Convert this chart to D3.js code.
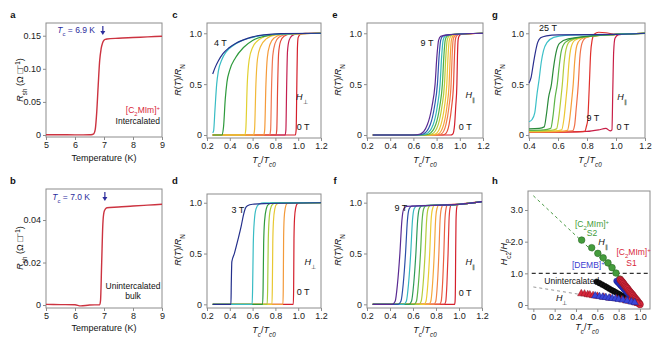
<!DOCTYPE html>
<html>
<head>
<meta charset="utf-8">
<script src="https://cdn.jsdelivr.net/npm/d3@7"></script>
<style>
body { margin: 0; background: #fff; }
svg { font-family: "Liberation Sans", Arial, sans-serif; }
.axis text { font-size: 9px; fill: #222; }
.axis line { stroke: #8c8c8c; }
</style>
</head>
<body>
<div id="chart"></div>
<script>
// a, b: sheet resistance vs temperature
const tempA = [5, 5.5, 6, 6.5, 6.6, 6.65, 6.7, 6.75, 6.8, 6.85, 6.9, 6.95, 7.0, 7.05, 7.1, 7.5, 8, 8.5, 9];
const rshA = [0.0005, 0.0004, 0.0002, 0.0003, 0.0008, 0.002, 0.009, 0.035, 0.075, 0.112, 0.13, 0.139, 0.1432, 0.1445, 0.145, 0.1462, 0.1472, 0.1482, 0.1492];
const tempB = [5, 5.5, 6, 6.2, 6.5, 6.85, 6.88, 6.92, 6.96, 7.0, 7.05, 7.1, 7.5, 8, 8.5, 9];
const rshB = [0.0003, 0.0002, 0.0001, -0.0004, 0.0, 0.0001, 0.002, 0.02, 0.038, 0.0437, 0.0452, 0.0458, 0.0461, 0.0466, 0.047, 0.0474];

// c: intercalated, perpendicular field, 0 T .. 4 T
const fieldsC = [0, 0.25, 0.5, 1, 1.5, 2, 2.5, 3, 3.5, 4];
const curvesC = [
  [[0.25,0],[0.975,0],[0.982,0.05],[0.988,0.5],[0.993,0.85],[1.0,0.96],[1.02,0.99],[1.06,1.0],[1.2,1.0]],
  [[0.25,0],[0.885,0],[0.892,0.05],[0.899,0.5],[0.906,0.82],[0.92,0.93],[0.945,0.975],[0.99,0.995],[1.2,1.0]],
  [[0.25,0],[0.805,0],[0.812,0.05],[0.82,0.5],[0.828,0.8],[0.845,0.92],[0.875,0.97],[0.93,0.993],[1.2,1.0]],
  [[0.25,0],[0.75,0],[0.758,0.05],[0.767,0.5],[0.777,0.78],[0.797,0.9],[0.83,0.96],[0.9,0.99],[1.2,1.0]],
  [[0.25,0],[0.698,0],[0.706,0.05],[0.717,0.5],[0.729,0.76],[0.752,0.89],[0.79,0.955],[0.86,0.988],[1.2,1.0]],
  [[0.25,0],[0.608,0],[0.617,0.05],[0.629,0.5],[0.643,0.75],[0.67,0.87],[0.72,0.945],[0.8,0.985],[1.2,1.0]],
  [[0.25,0],[0.53,0],[0.54,0.05],[0.553,0.5],[0.57,0.74],[0.6,0.86],[0.66,0.94],[0.76,0.982],[1.2,1.0]],
  [[0.25,0],[0.33,0],[0.345,0.08],[0.36,0.35],[0.375,0.52],[0.4,0.64],[0.45,0.76],[0.52,0.86],[0.6,0.93],[0.7,0.97],[0.85,0.995],[1.2,1.0]],
  [[0.25,0.02],[0.258,0.04],[0.27,0.25],[0.285,0.5],[0.3,0.63],[0.33,0.74],[0.37,0.82],[0.43,0.88],[0.5,0.925],[0.6,0.96],[0.72,0.985],[1.2,1.0]],
  [[0.25,0.6],[0.27,0.66],[0.3,0.73],[0.34,0.8],[0.39,0.855],[0.45,0.9],[0.52,0.935],[0.6,0.965],[0.7,0.985],[0.85,0.997],[1.2,1.0]]
];

// d: unintercalated, perpendicular field, 0 T .. 3 T
const fieldsD = [0, 0.5, 1, 1.5, 2, 2.5, 3];
const curvesD = [
  [[0.25,0],[0.957,0],[0.96,0.15],[0.963,0.65],[0.968,0.85],[0.978,0.95],[0.992,0.99],[1.02,1.0],[1.2,1.0]],
  [[0.25,0],[0.866,0],[0.869,0.15],[0.872,0.65],[0.877,0.85],[0.887,0.95],[0.9,0.99],[0.93,1.0],[1.2,1.0]],
  [[0.25,0],[0.77,0],[0.773,0.15],[0.777,0.6],[0.783,0.82],[0.795,0.94],[0.81,0.985],[0.84,0.998],[1.2,1.0]],
  [[0.25,0],[0.728,0],[0.732,0.15],[0.737,0.6],[0.744,0.82],[0.757,0.94],[0.775,0.985],[0.81,0.998],[1.2,1.0]],
  [[0.25,0],[0.688,0],[0.692,0.15],[0.697,0.6],[0.705,0.82],[0.72,0.94],[0.74,0.985],[0.78,0.998],[1.2,1.0]],
  [[0.25,0],[0.596,0],[0.6,0.15],[0.606,0.6],[0.615,0.82],[0.63,0.94],[0.655,0.985],[0.7,0.998],[1.2,1.0]],
  [[0.25,0],[0.41,0],[0.413,0.2],[0.418,0.42],[0.44,0.5],[0.47,0.63],[0.5,0.77],[0.52,0.88],[0.535,0.94],[0.555,0.97],[0.6,0.985],[0.7,0.992],[1.2,1.0]]
];

// e: intercalated, parallel field, 0 T .. 9 T
const fieldsE = [0, 1, 2, 3, 4, 5, 6, 7, 8, 9];
const curvesE = [
  [[0.25,0],[0.92,0],[0.94,0.01],[0.955,0.1],[0.965,0.28],[0.975,0.5],[0.98,0.78],[0.985,0.93],[0.993,0.97],[1.01,0.99],[1.2,1.0]],
  [[0.25,0],[0.85,0],[0.875,0.01],[0.907,0.1],[0.93,0.28],[0.946,0.5],[0.954,0.78],[0.961,0.93],[0.97,0.97],[0.99,0.99],[1.2,1.0]],
  [[0.25,0],[0.81,0],[0.84,0.01],[0.88,0.1],[0.907,0.28],[0.925,0.5],[0.934,0.78],[0.942,0.93],[0.953,0.97],[0.975,0.99],[1.2,1.0]],
  [[0.25,0],[0.78,0],[0.815,0.01],[0.86,0.1],[0.889,0.28],[0.908,0.5],[0.918,0.78],[0.927,0.93],[0.939,0.97],[0.965,0.99],[1.2,1.0]],
  [[0.25,0],[0.75,0],[0.79,0.01],[0.837,0.1],[0.868,0.28],[0.888,0.5],[0.899,0.78],[0.909,0.93],[0.922,0.97],[0.955,0.989],[1.2,1.0]],
  [[0.25,0],[0.72,0],[0.76,0.01],[0.813,0.1],[0.846,0.28],[0.868,0.5],[0.88,0.78],[0.891,0.93],[0.905,0.97],[0.94,0.988],[1.2,1.0]],
  [[0.25,0],[0.69,0],[0.735,0.01],[0.792,0.1],[0.827,0.28],[0.85,0.5],[0.863,0.78],[0.874,0.93],[0.889,0.97],[0.93,0.988],[1.2,1.0]],
  [[0.25,0],[0.66,0],[0.71,0.01],[0.77,0.1],[0.806,0.28],[0.83,0.5],[0.844,0.78],[0.856,0.93],[0.872,0.97],[0.92,0.987],[1.2,1.0]],
  [[0.25,0],[0.63,0],[0.685,0.01],[0.745,0.1],[0.782,0.28],[0.807,0.5],[0.822,0.78],[0.835,0.93],[0.852,0.97],[0.91,0.986],[1.2,1.0]],
  [[0.25,0],[0.6,0],[0.66,0.01],[0.72,0.1],[0.76,0.28],[0.787,0.5],[0.803,0.78],[0.817,0.93],[0.835,0.97],[0.9,0.985],[1.2,1.0]]
];

// f: unintercalated, parallel field, 0 T .. 9 T
const fieldsF = [0, 0.5, 1, 2, 3, 4, 5, 6, 7, 8, 8.5, 9];
const curvesF = [
  [[0.25,0],[0.962,0],[0.966,0.03],[0.969,0.2],[0.971,0.5],[0.974,0.82],[0.979,0.94],[0.988,0.982],[1.0,0.984],[1.2,1.01]],
  [[0.25,0],[0.872,0],[0.885,0.03],[0.895,0.2],[0.905,0.5],[0.913,0.82],[0.921,0.94],[0.933,0.981],[1.0,0.984],[1.2,1.01]],
  [[0.25,0],[0.83,0],[0.845,0.03],[0.857,0.2],[0.868,0.5],[0.877,0.82],[0.887,0.94],[0.9,0.98],[1.0,0.984],[1.2,1.01]],
  [[0.25,0],[0.782,0],[0.798,0.03],[0.812,0.2],[0.825,0.5],[0.835,0.82],[0.846,0.94],[0.862,0.979],[1.0,0.984],[1.2,1.01]],
  [[0.25,0],[0.738,0],[0.755,0.03],[0.77,0.2],[0.785,0.5],[0.796,0.82],[0.808,0.94],[0.825,0.977],[1.0,0.984],[1.2,1.01]],
  [[0.25,0],[0.695,0],[0.713,0.03],[0.729,0.2],[0.745,0.5],[0.757,0.82],[0.77,0.94],[0.788,0.975],[1.0,0.984],[1.2,1.01]],
  [[0.25,0],[0.652,0],[0.671,0.03],[0.688,0.2],[0.705,0.5],[0.718,0.82],[0.731,0.94],[0.75,0.973],[1.0,0.984],[1.2,1.01]],
  [[0.25,0],[0.61,0],[0.63,0.03],[0.647,0.2],[0.665,0.5],[0.679,0.82],[0.693,0.94],[0.713,0.971],[1.0,0.984],[1.2,1.01]],
  [[0.25,0],[0.565,0],[0.587,0.03],[0.606,0.2],[0.625,0.5],[0.64,0.82],[0.655,0.94],[0.676,0.969],[1.0,0.984],[1.2,1.01]],
  [[0.25,0],[0.52,0],[0.542,0.03],[0.561,0.2],[0.58,0.5],[0.595,0.82],[0.61,0.94],[0.632,0.967],[1.0,0.984],[1.2,1.01]],
  [[0.25,0],[0.47,0],[0.495,0.03],[0.515,0.2],[0.535,0.5],[0.551,0.82],[0.567,0.94],[0.59,0.965],[1.0,0.984],[1.2,1.01]],
  [[0.25,0],[0.42,0],[0.445,0.03],[0.465,0.2],[0.486,0.5],[0.503,0.82],[0.52,0.94],[0.545,0.963],[1.0,0.984],[1.2,1.01]]
];

// g: intercalated, parallel field up to 25 T
const fieldsG = [0, 9, 11, 13, 15, 17, 19, 21, 23, 25];
const curvesG = [
  [[0.4,0.03],[0.6,0.03],[0.8,0.035],[0.88,0.05],[0.93,0.065],[0.96,0.04],[0.972,0.05],[0.978,0.45],[0.984,0.82],[0.993,0.95],[1.015,0.985],[1.2,1.0]],
  [[0.4,0.025],[0.7,0.03],[0.785,0.035],[0.795,0.08],[0.805,0.15],[0.815,0.45],[0.825,0.8],[0.835,0.93],[0.85,0.99],[0.88,1.01],[0.93,1.005],[1.0,0.99],[1.2,1.0]],
  [[0.4,0.03],[0.65,0.035],[0.7,0.04],[0.715,0.1],[0.725,0.25],[0.74,0.5],[0.75,0.75],[0.765,0.9],[0.785,0.95],[0.82,0.97],[1.0,0.99],[1.2,1.0]],
  [[0.4,0.03],[0.62,0.035],[0.665,0.045],[0.68,0.15],[0.695,0.35],[0.705,0.5],[0.715,0.72],[0.73,0.88],[0.755,0.94],[0.8,0.965],[1.0,0.99],[1.2,1.0]],
  [[0.4,0.035],[0.58,0.04],[0.625,0.05],[0.64,0.15],[0.655,0.35],[0.665,0.5],[0.675,0.7],[0.69,0.86],[0.715,0.93],[0.77,0.96],[1.0,0.99],[1.2,1.0]],
  [[0.4,0.04],[0.55,0.045],[0.59,0.06],[0.605,0.17],[0.62,0.36],[0.63,0.5],[0.64,0.68],[0.655,0.84],[0.68,0.92],[0.74,0.955],[1.0,0.99],[1.2,1.0]],
  [[0.4,0.045],[0.5,0.05],[0.55,0.065],[0.565,0.18],[0.58,0.37],[0.595,0.5],[0.607,0.66],[0.622,0.82],[0.65,0.91],[0.71,0.95],[1.0,0.99],[1.2,1.0]],
  [[0.4,0.06],[0.47,0.065],[0.505,0.08],[0.52,0.2],[0.535,0.37],[0.555,0.5],[0.568,0.65],[0.585,0.8],[0.61,0.9],[0.67,0.945],[1.0,0.99],[1.2,1.0]],
  [[0.4,0.13],[0.42,0.15],[0.44,0.22],[0.455,0.4],[0.47,0.55],[0.485,0.72],[0.5,0.83],[0.525,0.91],[0.57,0.96],[0.65,0.98],[1.0,0.99],[1.2,1.0]],
  [[0.4,0.51],[0.415,0.57],[0.43,0.7],[0.445,0.82],[0.46,0.91],[0.48,0.955],[0.52,0.975],[0.6,0.985],[1.0,0.99],[1.2,1.0]]
];

// h: upper critical field vs Tc/Tc0
const s2Par = [[0.453,2.05],[0.547,1.81],[0.605,1.63],[0.655,1.49],[0.70,1.33],[0.738,1.18],[0.775,1.01],[0.81,0.82]];
const s2Fit = [[0,3.45],[0.84,0.8]];
const perpFit = [[0,0.57],[0.95,0.06]];
const bulkPar = [[0.594,0.735],[0.62,0.69],[0.645,0.645],[0.67,0.6],[0.69,0.56],[0.71,0.52],[0.73,0.48],[0.75,0.445],[0.77,0.41],[0.79,0.37],[0.81,0.335],[0.83,0.295],[0.85,0.26],[0.87,0.22],[0.89,0.185],[0.905,0.16]];
const dembPar = [[0.78,0.76],[0.79,0.72],[0.80,0.69],[0.81,0.65],[0.82,0.61],[0.83,0.58],[0.84,0.54],[0.85,0.50],[0.86,0.47],[0.87,0.43],[0.88,0.39],[0.89,0.36],[0.90,0.32],[0.91,0.28],[0.92,0.25],[0.93,0.21],[0.94,0.17],[0.95,0.14],[0.96,0.10],[0.97,0.06]];
const s1Par = [[0.815,0.80],[0.825,0.76],[0.835,0.72],[0.845,0.68],[0.855,0.63],[0.865,0.59],[0.875,0.55],[0.885,0.51],[0.895,0.46],[0.905,0.42],[0.915,0.38],[0.925,0.34],[0.935,0.30],[0.945,0.25],[0.955,0.21],[0.965,0.17],[0.975,0.13],[0.985,0.08],[0.992,0.05],[1.0,0.02]];
const s1Perp = [[0.45,0.36],[0.48,0.35],[0.51,0.33],[0.53,0.32],[0.56,0.3],[0.6,0.28],[0.66,0.25],[0.72,0.22],[0.78,0.2],[0.83,0.17],[0.87,0.14],[0.9,0.12],[0.93,0.1],[0.96,0.07],[0.98,0.05]];
const dembPerp = [[0.58,0.29],[0.62,0.27],[0.65,0.25],[0.68,0.24],[0.71,0.22],[0.74,0.21],[0.77,0.2],[0.8,0.18],[0.84,0.16],[0.88,0.13],[0.92,0.1],[0.95,0.08]];
const hcUnity = [[-0.015,1],[1.094,1]];

const palC = ["#d4202c","#c42050","#e24a3a","#f07850","#f59a3a","#f2b838","#e2d030","#2e9a3c","#38bcc4","#24308c"];
const palD = ["#d4202c","#f39a3a","#e8c832","#a8cc3c","#2e9a3c","#38bcc4","#24308c"];
const palE = ["#d4202c","#e8503a","#f27e4a","#f5a23c","#ecc634","#b8cc3a","#4caf48","#36b8b8","#2e58b0","#5a2a92"];
const palF = ["#d4202c","#e03838","#ea6040","#f28648","#f5a83c","#eccc34","#b4cc3c","#5cb448","#2e9a58","#36b8c0","#2c4ea8","#5a2a92"];
const palG = ["#c81e46","#e0302c","#f07048","#f5a03a","#ecc834","#b4cc3c","#5cb448","#2a8a3a","#3cc0c8","#2a2f8f"];

const svg = d3.select("#chart").append("svg").attr("width", 660).attr("height", 337);

const fmt1 = d => d === 0 ? "0" : d3.format(".1f")(d);
const fmt2 = d => d === 0 ? "0" : d3.format(".2f")(d);
const fmt0 = d3.format("d");

function panel(box, xDom, yDom, xTicks, yTicks, xFmt, yFmt) {
  const x = d3.scaleLinear().domain(xDom).range([box.l, box.r]);
  const y = d3.scaleLinear().domain(yDom).range([box.b, box.t]);
  const g = svg.append("g");
  g.append("g").attr("class", "axis").attr("transform", "translate(0," + box.b + ")")
    .call(d3.axisBottom(x).tickValues(xTicks).tickFormat(xFmt).tickSize(3).tickSizeOuter(0).tickPadding(2));
  g.append("g").attr("class", "axis").attr("transform", "translate(" + box.l + ",0)")
    .call(d3.axisLeft(y).tickValues(yTicks).tickFormat(yFmt).tickSize(3).tickSizeOuter(0).tickPadding(2));
  g.selectAll(".domain").remove();
  g.append("rect").attr("x", box.l).attr("y", box.t)
    .attr("width", box.r - box.l).attr("height", box.b - box.t)
    .attr("fill", "none").attr("stroke", "#8c8c8c").attr("stroke-width", 1);
  return { g, x, y };
}

// text with italic / sub / sup pieces
function rich(sel, parts) {
  parts.forEach(p => {
    const t = sel.append("tspan").text(p[0]);
    if (p[1] && p[1].includes("i")) t.attr("font-style", "italic");
    if (p[1] && p[1].includes("sub")) t.attr("baseline-shift", "sub").attr("font-size", "0.7em");
    if (p[1] && p[1].includes("sup")) t.attr("baseline-shift", "super").attr("font-size", "0.7em");
  });
  return sel;
}

function label(g, x, y, parts, opts = {}) {
  const t = g.append("text").attr("x", x).attr("y", y).attr("dy", "0.35em")
    .attr("font-size", opts.size || 9).attr("fill", opts.color || "#111")
    .attr("text-anchor", opts.anchor || "middle");
  if (opts.weight) t.attr("font-weight", opts.weight);
  return rich(t, parts);
}

function yTitle(x, y, parts) {
  const t = svg.append("text").attr("transform", "translate(" + x + "," + y + ") rotate(-90)")
    .attr("dy", "0.35em").attr("text-anchor", "middle").attr("font-size", 9).attr("fill", "#111");
  rich(t, parts);
}

const rtTitle = [["R", "i"], ["("], ["T", "i"], [")/"], ["R", "i"], ["N", "sub"]];
const tcTitle = [["T", "i"], ["c", "isub"], ["/"], ["T", "i"], ["c0", "isub"]];
const rshTitle = [["R", "i"], ["sh", "sub"], [" (\u03A9 \u25A1"], ["\u22121", "sup"], [")"]];

function drawCurves(p, curves, colors) {
  const line = d3.line().x(d => p.x(d[0])).y(d => p.y(d[1])).curve(d3.curveMonotoneX);
  p.g.selectAll(null).data(curves).enter().append("path")
    .attr("d", line).attr("fill", "none")
    .attr("stroke", (d, i) => colors[i]).attr("stroke-width", 1.2);
}

function tcArrow(g, x, y1, y2) {
  g.append("line").attr("x1", x).attr("x2", x).attr("y1", y1).attr("y2", y2 - 3)
    .attr("stroke", "#2c2c9c").attr("stroke-width", 1.2);
  g.append("path").attr("d", "M" + (x - 2.5) + "," + (y2 - 4) + "L" + (x + 2.5) + "," + (y2 - 4) + "L" + x + "," + y2 + "Z")
    .attr("fill", "#2c2c9c");
}

// ---- a
const pa = panel({ l: 46, r: 162, t: 23, b: 137 }, [5, 9], [-0.003, 0.1692], [5, 6, 7, 8, 9], [0, 0.05, 0.1, 0.15], fmt0, fmt2);
pa.g.append("path").datum(d3.zip(tempA, rshA))
  .attr("d", d3.line().x(d => pa.x(d[0])).y(d => pa.y(d[1])).curve(d3.curveMonotoneX))
  .attr("fill", "none").attr("stroke", "#cc3340").attr("stroke-width", 1.4);
label(pa.g, 95, 30.5, [["T", "i"], ["c", "sub"], [" = 6.9 K"]], { color: "#2c2c9c", anchor: "end", size: 8.5 });
tcArrow(pa.g, pa.x(6.96), 26, 35);
label(pa.g, 160, 110, [["[C"], ["2", "sub"], ["MIm]"], ["+", "sup"]], { color: "#d8263a", anchor: "end", size: 8.5 });
label(pa.g, 160, 121, [["Intercalated"]], { anchor: "end", size: 8.5 });
yTitle(20, 80, rshTitle);
label(svg, 104, 157.5, [["Temperature (K)"]]);

// ---- b
const pb = panel({ l: 46, r: 162, t: 189, b: 308 }, [5, 9], [-0.0014, 0.0546], [5, 6, 7, 8, 9], [0, 0.02, 0.04], fmt0, fmt2);
pb.g.append("path").datum(d3.zip(tempB, rshB))
  .attr("d", d3.line().x(d => pb.x(d[0])).y(d => pb.y(d[1])).curve(d3.curveMonotoneX))
  .attr("fill", "none").attr("stroke", "#cc3340").attr("stroke-width", 1.4);
label(pb.g, 90, 197, [["T", "i"], ["c", "sub"], [" = 7.0 K"]], { color: "#2c2c9c", anchor: "end", size: 8.5 });
tcArrow(pb.g, pb.x(7.03), 192, 201);
label(pb.g, 133, 286.5, [["Unintercalated"]], { size: 8.5 });
label(pb.g, 133, 296, [["bulk"]], { size: 8.5 });
yTitle(20, 248, rshTitle);
label(svg, 104, 327.5, [["Temperature (K)"]]);

const tcTicks = [0.2, 0.4, 0.6, 0.8, 1.0, 1.2];

// ---- c
const pc = panel({ l: 207, r: 321, t: 23, b: 138 }, [0.2, 1.2], [-0.0295, 1.101], tcTicks, [0, 0.5, 1], fmt1, fmt1);
drawCurves(pc, curvesC, palC);
label(pc.g, pc.x(0.318), pc.y(0.907), [["4 T"]]);
label(pc.g, pc.x(1.032), pc.y(0.377), [["H", "i"], ["\u22A5", "sub"]]);
label(pc.g, pc.x(1.044), pc.y(0.082), [["0 T"]]);
yTitle(178, 80, rtTitle);
label(svg, 264, 159.5, tcTitle);

// ---- d
const pd = panel({ l: 207, r: 321, t: 194, b: 308 }, [0.2, 1.2], [-0.036, 1.086], tcTicks, [0, 0.5, 1], fmt1, fmt1);
drawCurves(pd, curvesD, palD);
label(pd.g, pd.x(0.471), pd.y(0.928), [["3 T"]]);
label(pd.g, pd.x(1.106), pd.y(0.416), [["H", "i"], ["\u22A5", "sub"]]);
label(pd.g, pd.x(1.044), pd.y(0.121), [["0 T"]]);
yTitle(178, 250, rtTitle);
label(svg, 264, 330, tcTitle);

// ---- e
const pe = panel({ l: 367, r: 483, t: 23, b: 138 }, [0.2, 1.2], [-0.0295, 1.101], tcTicks, [0, 0.5, 1], fmt1, fmt1);
drawCurves(pe, curvesE, palE);
label(pe.g, pe.x(0.717), pe.y(0.905), [["9 T"]]);
label(pe.g, pe.x(1.09), pe.y(0.393), [["H", "i"], ["\u2225", "sub"]]);
label(pe.g, pe.x(1.047), pe.y(0.079), [["0 T"]]);
yTitle(338, 80, rtTitle);
label(svg, 425, 159.5, tcTitle);

// ---- f
const pf = panel({ l: 367, r: 482, t: 193, b: 308 }, [0.2, 1.2], [-0.036, 1.095], tcTicks, [0, 0.5, 1], fmt1, fmt1);
drawCurves(pf, curvesF, palF);
label(pf.g, pf.x(0.495), pf.y(0.948), [["9 T"]]);
label(pf.g, pf.x(1.098), pf.y(0.416), [["H", "i"], ["\u2225", "sub"]]);
label(pf.g, pf.x(1.054), pf.y(0.111), [["0 T"]]);
yTitle(338, 250, rtTitle);
label(svg, 425, 330, tcTitle);

// ---- g
const pg = panel({ l: 529, r: 645, t: 23, b: 138 }, [0.4, 1.2], [-0.0295, 1.101], [0.4, 0.6, 0.8, 1.0, 1.2], [0, 0.5, 1], fmt1, fmt1);
drawCurves(pg, curvesG, palG);
label(pg.g, pg.x(0.531), pg.y(1.052), [["25 T"]]);
label(pg.g, pg.x(1.041), pg.y(0.374), [["H", "i"], ["\u2225", "sub"]]);
label(pg.g, pg.x(0.841), pg.y(0.167), [["9 T"]]);
label(pg.g, pg.x(1.048), pg.y(0.079), [["0 T"]]);
yTitle(498, 80, rtTitle);
label(svg, 590, 159.5, tcTitle);

// ---- h
const ph = panel({ l: 528, r: 650, t: 191, b: 309 }, [-0.05, 1.094], [-0.126, 3.6], [0, 0.2, 0.4, 0.6, 0.8, 1.0], [0, 1, 2, 3], d => d === 0 ? "0" : d3.format(".1f")(d), fmt1);
const hLine = d3.line().x(d => ph.x(d[0])).y(d => ph.y(d[1]));
ph.g.append("path").datum(hcUnity).attr("d", hLine).attr("stroke", "#333").attr("stroke-width", 1.2).attr("stroke-dasharray", "4,3").attr("fill", "none");
ph.g.append("path").datum(s2Fit).attr("d", hLine).attr("stroke", "#4a9a44").attr("stroke-width", 1).attr("stroke-dasharray", "3,3").attr("fill", "none");
ph.g.append("path").datum(perpFit).attr("d", hLine).attr("stroke", "#999").attr("stroke-width", 1).attr("stroke-dasharray", "3,3").attr("fill", "none");

function dots(data, r, fill, stroke) {
  ph.g.selectAll(null).data(data).enter().append("circle")
    .attr("cx", d => ph.x(d[0])).attr("cy", d => ph.y(d[1])).attr("r", r)
    .attr("fill", fill).attr("stroke", stroke).attr("stroke-width", 0.6);
}
function tris(data, fill, stroke) {
  ph.g.selectAll(null).data(data).enter().append("path")
    .attr("d", d3.symbol().type(d3.symbolTriangle).size(24))
    .attr("transform", d => "translate(" + ph.x(d[0]) + "," + ph.y(d[1]) + ")")
    .attr("fill", fill).attr("stroke", stroke).attr("stroke-width", 0.5);
}
dots(s2Par, 3.3, "#449c3c", "#2c6a28");
dots(bulkPar, 2.8, "#111", "#000");
dots(dembPar, 2.8, "#2b38d0", "#1a2090");
dots(s1Par, 3.4, "#d8263a", "#8a1424");
tris(s1Perp, "#d8263a", "#8a1424");
tris(dembPerp, "#3a46d8", "#1a2090");

label(ph.g, ph.x(0.55), 224, [["[C"], ["2", "sub"], ["MIm]"], ["+", "sup"]], { color: "#3f9b3a", size: 8.5 });
label(ph.g, ph.x(0.55), 233, [["S2"]], { color: "#3f9b3a", size: 8.5 });
label(ph.g, ph.x(0.653), ph.y(1.99), [["H", "i"], ["\u2225", "sub"]]);
label(ph.g, ph.x(0.94), ph.y(1.68), [["[C"], ["2", "sub"], ["MIm]"], ["+", "sup"]], { color: "#d8263a", size: 8.5 });
label(ph.g, ph.x(0.92), ph.y(1.33), [["S1"]], { color: "#d8263a", size: 8.5 });
label(ph.g, ph.x(0.515), ph.y(1.26), [["[DEMB]"], ["+", "sup"]], { color: "#3a3ad0", size: 8.5 });
label(ph.g, ph.x(0.36), ph.y(0.77), [["Unintercalated"]], { size: 8.5 });
label(ph.g, ph.x(0.266), ph.y(0.23), [["H", "i"], ["\u22A5", "sub"]]);
yTitle(504, 252, [["H", "i"], ["c2", "sub"], ["/"], ["H", "i"], ["P", "sub"]]);
label(svg, 587, 327, tcTitle);

// panel letters
[["a", 13, 15], ["b", 13, 181], ["c", 175, 15], ["d", 175, 181], ["e", 335, 15], ["f", 335, 181], ["g", 495, 15], ["h", 495, 181]]
  .forEach(p => label(svg, p[1], p[2], [[p[0]]], { weight: "bold", size: 9.5 }));
</script>
</body>
</html>
